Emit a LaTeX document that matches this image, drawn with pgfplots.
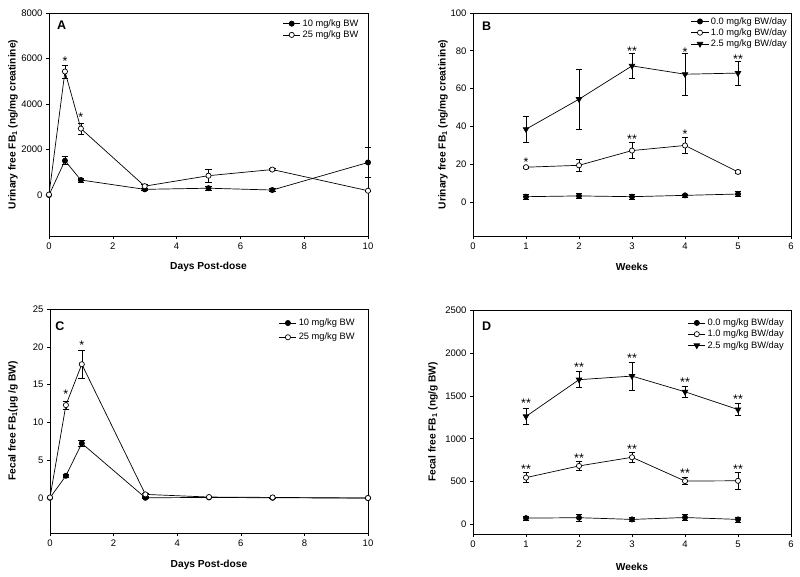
\documentclass[border=0pt]{standalone}
\usepackage{pgfplots}
\pgfplotsset{compat=1.18}
\usepackage{fontspec}
\setmainfont{Liberation Sans}

\pgfplotsset{
  myaxis/.style={
    scale only axis, anchor=south west, clip=false,
    axis lines=box,
    axis line style={black, line width=0.6pt},
    axis background/.style={draw=black, line width=0.6pt},
    tick align=outside, xtick pos=left, ytick pos=left,
    major tick length=3pt,
    tick style={black, line width=0.6pt},
    /pgf/number format/assume math mode=true,
    /pgf/number format/1000 sep={},
    scaled ticks=false,
    tick label style={font=\fontsize{9.5}{11}\selectfont},
    label style={font=\bfseries\fontsize{10.2}{12}\selectfont},
    legend style={draw=none, fill=none, font=\fontsize{9.3}{11}\selectfont, row sep=-1pt, inner sep=1pt, anchor=north east},
    legend cell align=left,
    every axis plot/.append style={line width=0.7pt, black},
  },
  err/.style={error bars/.cd, y dir=both, y explicit, error mark=|, error mark options={black, mark size=3.4pt, line width=0.6pt, solid}},
  fc/.style={mark=*, mark size=2.6pt, mark options={fill=black, solid}},
  oc/.style={mark=*, mark size=2.6pt, mark options={fill=white, solid}},
  tri/.style={mark=triangle*, mark size=3.2pt, mark options={fill=black, rotate=180, solid}},
  stars/.style={draw=none, mark=none, forget plot, nodes near coords, point meta=explicit symbolic,
    nodes near coords style={anchor=center, yshift=-3pt, inner sep=0pt, font=\fontsize{12.5}{12.5}\selectfont}},
}
\tikzset{panel/.style={anchor=north west, font=\bfseries\fontsize{12.5}{13}\selectfont, inner sep=0pt}}

\begin{document}
\begin{tikzpicture}
\path[use as bounding box] (0,0) rectangle (800pt,577pt);

% ---------- A ----------
\begin{axis}[myaxis, at={(49pt,341pt)}, width=319pt, height=223pt,
  xmin=0, xmax=10, ymin=-1800, ymax=8000,
  xtick={0,2,...,10}, ytick={0,2000,...,8000},
  xlabel={Days Post-dose}, ylabel={Urinary free FB\textsubscript{1} (ng/mg creatinine)},
  x label style={at={(axis description cs:0.5,0)}, anchor=center, yshift=-31pt},
  y label style={at={(axis description cs:0,0.5)}, anchor=center, yshift=36pt},
  legend style={at={(0.98,0.985)}}]
\addplot[fc, err] coordinates {(0,0)+-(0,0) (0.5,1510)+-(0,180) (1,660)+-(0,90) (3,250)+-(0,50) (5,300)+-(0,80) (7,220)+-(0,70) (10,1430)+-(0,670)};
\addlegendentry{10 mg/kg BW}
\addplot[oc, err] coordinates {(0,20)+-(0,0) (0.5,5430)+-(0,280) (1,2920)+-(0,230) (3,390)+-(0,100) (5,850)+-(0,300) (7,1120)+-(0,50) (10,190)+-(0,40)};
\addlegendentry{25 mg/kg BW}
\addplot[stars] coordinates {(0.5,6020)[*] (1,3550)[*]};
\node[panel] at (rel axis cs:0.025,0.964) {A};
\end{axis}

% ---------- B ----------
\begin{axis}[myaxis, at={(473pt,341pt)}, width=318pt, height=223pt,
  xmin=0, xmax=6, ymin=-18, ymax=100,
  xtick={0,1,...,6}, ytick={0,20,...,100},
  xlabel={Weeks}, ylabel={Urinary free FB\textsubscript{1} (ng/mg creatinine)},
  x label style={at={(axis description cs:0.5,0)}, anchor=center, yshift=-31pt},
  y label style={at={(axis description cs:0,0.5)}, anchor=center, yshift=30pt},
  legend style={at={(0.997,0.995)}}]
\addplot[fc, err] coordinates {(1,2.8)+-(0,1.2) (2,3.2)+-(0,1.2) (3,2.8)+-(0,1.2) (4,3.5)+-(0,0.8) (5,4.2)+-(0,1.3)};
\addlegendentry{0.0 mg/kg BW/day}
\addplot[oc, err] coordinates {(1,18.4)+-(0,0.7) (2,19.4)+-(0,3.4) (3,27.2)+-(0,4.3) (4,29.9)+-(0,4.2) (5,15.9)+-(0,0.9)};
\addlegendentry{1.0 mg/kg BW/day}
\addplot[tri, err] coordinates {(1,38.5)+-(0,6.9) (2,54.4)+-(0,16) (3,72.0)+-(0,6.7) (4,67.6)+-(0,11.1) (5,68.2)+-(0,6.5)};
\addlegendentry{2.5 mg/kg BW/day}
\addplot[stars] coordinates {(1,22.8)[*] (3,34.6)[**] (4,37.6)[*] (3,81.3)[**] (4,81)[*] (5,77)[**]};
\node[panel] at (rel axis cs:0.028,0.96) {B};
\end{axis}

% ---------- C ----------
\begin{axis}[myaxis, at={(50pt,44pt)}, width=318pt, height=224pt,
  xmin=0, xmax=10, ymin=-4.6, ymax=25,
  xtick={0,2,...,10}, ytick={0,5,...,25},
  xlabel={Days Post-dose}, ylabel={Fecal free FB\textsubscript{1}(µg /g BW)},
  x label style={at={(axis description cs:0.5,0)}, anchor=center, yshift=-32pt},
  y label style={at={(axis description cs:0,0.5)}, anchor=center, yshift=37pt},
  legend style={at={(0.968,0.97)}, row sep=2pt}]
\addplot[fc, err] coordinates {(0,0.05)+-(0,0) (0.5,2.96)+-(0,0.25) (1,7.25)+-(0,0.35) (3,0.05)+-(0,0.1) (5,0.1)+-(0,0) (7,0.05)+-(0,0) (10,0.02)+-(0,0)};
\addlegendentry{10 mg/kg BW}
\addplot[oc, err] coordinates {(0,0.1)+-(0,0) (0.5,12.3)+-(0,0.55) (1,17.7)+-(0,1.85) (3,0.5)+-(0,0.2) (5,0.15)+-(0,0) (7,0.1)+-(0,0) (10,0.02)+-(0,0)};
\addlegendentry{25 mg/kg BW}
\addplot[stars] coordinates {(0.5,14.1)[*] (1,20.6)[*]};
\node[panel] at (rel axis cs:0.016,0.946) {C};
\end{axis}

% ---------- D ----------
\begin{axis}[myaxis, at={(473pt,43pt)}, width=318pt, height=224pt,
  xmin=0, xmax=6, ymin=-110, ymax=2500,
  xtick={0,1,...,6}, ytick={0,500,...,2500},
  xlabel={Weeks}, ylabel={Fecal free FB\textsubscript{1} (ng/g BW)},
  x label style={at={(axis description cs:0.5,0)}, anchor=center, yshift=-33pt},
  y label style={at={(axis description cs:0,0.5)}, anchor=center, yshift=40pt},
  legend style={at={(0.987,0.975)}}]
\addplot[fc, err] coordinates {(1,75)+-(0,20) (2,80)+-(0,40) (3,60)+-(0,20) (4,82)+-(0,35) (5,60)+-(0,30)};
\addlegendentry{0.0 mg/kg BW/day}
\addplot[oc, err] coordinates {(1,547)+-(0,60) (2,683)+-(0,52) (3,784)+-(0,58) (4,507)+-(0,42) (5,510)+-(0,100)};
\addlegendentry{1.0 mg/kg BW/day}
\addplot[tri, err] coordinates {(1,1260)+-(0,95) (2,1688)+-(0,92) (3,1730)+-(0,160) (4,1547)+-(0,62) (5,1340)+-(0,70)};
\addlegendentry{2.5 mg/kg BW/day}
\addplot[stars] coordinates {(1,1444)[**] (2,1863)[**] (3,1976)[**] (4,1693)[**] (5,1491)[**] (1,675)[**] (2,811)[**] (3,916)[**] (4,637)[**] (5,675)[**]};
\node[panel] at (rel axis cs:0.028,0.946) {D};
\end{axis}
\end{tikzpicture}
\end{document}
